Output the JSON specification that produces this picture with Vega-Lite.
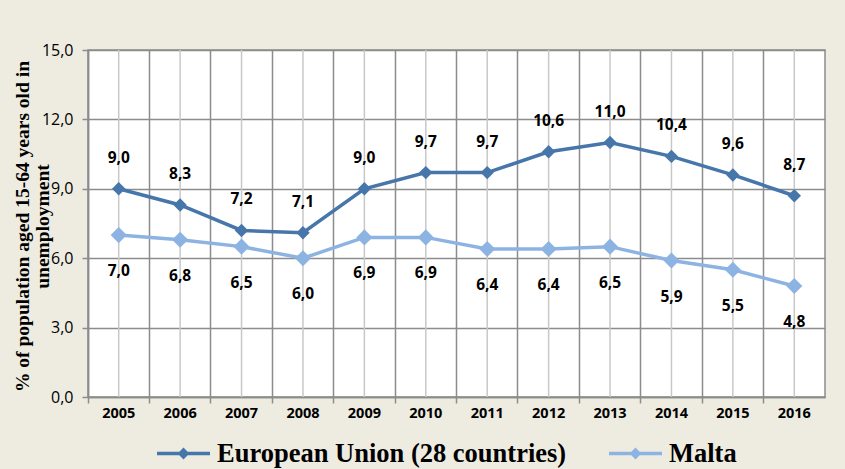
{
  "$schema": "https://vega.github.io/schema/vega-lite/v6.json",
  "width": 737,
  "height": 347,
  "autosize": {"type": "none"},
  "padding": {"left": 88, "top": 50, "right": 20, "bottom": 72},
  "background": "#EEECE1",
  "config": {
    "view": {"fill": "#FFFFFF", "stroke": "#8C8C8C", "strokeWidth": 1.5}
  },
  "data": {
    "values": [
      {"year": "2005", "series": "European Union (28 countries)", "value": 9.0},
      {"year": "2006", "series": "European Union (28 countries)", "value": 8.3},
      {"year": "2007", "series": "European Union (28 countries)", "value": 7.2},
      {"year": "2008", "series": "European Union (28 countries)", "value": 7.1},
      {"year": "2009", "series": "European Union (28 countries)", "value": 9.0},
      {"year": "2010", "series": "European Union (28 countries)", "value": 9.7},
      {"year": "2011", "series": "European Union (28 countries)", "value": 9.7},
      {"year": "2012", "series": "European Union (28 countries)", "value": 10.6},
      {"year": "2013", "series": "European Union (28 countries)", "value": 11.0},
      {"year": "2014", "series": "European Union (28 countries)", "value": 10.4},
      {"year": "2015", "series": "European Union (28 countries)", "value": 9.6},
      {"year": "2016", "series": "European Union (28 countries)", "value": 8.7},
      {"year": "2005", "series": "Malta", "value": 7.0},
      {"year": "2006", "series": "Malta", "value": 6.8},
      {"year": "2007", "series": "Malta", "value": 6.5},
      {"year": "2008", "series": "Malta", "value": 6.0},
      {"year": "2009", "series": "Malta", "value": 6.9},
      {"year": "2010", "series": "Malta", "value": 6.9},
      {"year": "2011", "series": "Malta", "value": 6.4},
      {"year": "2012", "series": "Malta", "value": 6.4},
      {"year": "2013", "series": "Malta", "value": 6.5},
      {"year": "2014", "series": "Malta", "value": 5.9},
      {"year": "2015", "series": "Malta", "value": 5.5},
      {"year": "2016", "series": "Malta", "value": 4.8}
    ]
  },
  "transform": [
    {"calculate": "replace(format(datum.value, '.1f'), '.', ',')", "as": "label"}
  ],
  "encoding": {
    "x": {
      "field": "year",
      "type": "ordinal",
      "scale": {"paddingInner": 0, "paddingOuter": 0},
      "axis": {
        "title": null,
        "labelAngle": 0,
        "bandPosition": 0,
        "grid": true,
        "gridColor": "#8C8C8C",
        "gridWidth": 1.5,
        "domainColor": "#8C8C8C",
        "domainWidth": 1.5,
        "tickColor": "#8C8C8C",
        "tickWidth": 1.5,
        "tickSize": 6,
        "labelFont": "Open Sans",
        "labelFontWeight": "bold",
        "labelFontSize": 14.5,
        "labelColor": "#000000",
        "labelPadding": 3
      }
    }
  },
  "layer": [
    {
      "transform": [{"filter": "datum.series === 'Malta'"}],
      "mark": {"type": "rule", "color": "#C8C8C8", "strokeWidth": 1.5},
      "encoding": {}
    },
    {
      "mark": {"type": "line", "strokeWidth": 3.5},
      "encoding": {
        "y": {
          "field": "value",
          "type": "quantitative",
          "scale": {"domain": [0, 15], "nice": false},
          "axis": {
            "values": [0, 3, 6, 9, 12, 15],
            "labelExpr": "replace(format(datum.value, '.1f'), '.', ',')",
            "grid": true,
            "gridColor": "#8C8C8C",
            "gridWidth": 1.5,
            "domainColor": "#8C8C8C",
            "domainWidth": 1.5,
            "tickColor": "#8C8C8C",
            "tickWidth": 1.5,
            "tickSize": 6,
            "labelFont": "Open Sans",
            "labelFontSize": 16,
            "labelColor": "#000000",
            "labelPadding": 9,
            "title": ["% of population aged 15-64 years old in", "unemployment"],
            "titleFont": "Liberation Serif",
            "titleFontWeight": "bold",
            "titleFontSize": 19.5,
            "titleColor": "#000000",
            "titleAngle": -90,
            "titleAlign": "center",
            "titleBaseline": "middle",
            "titleX": -66,
            "titleY": 176,
            "titleLineHeight": 20
          }
        },
        "color": {
          "field": "series",
          "type": "nominal",
          "scale": {
            "domain": ["European Union (28 countries)", "Malta"],
            "range": ["#4676AA", "#8DB3E2"]
          },
          "legend": {
            "title": null,
            "orient": "none",
            "direction": "horizontal",
            "legendX": 67,
            "legendY": 375,
            "labelFont": "Liberation Serif",
            "labelFontWeight": "bold",
            "labelFontSize": 26.5,
            "labelColor": "#000000",
            "labelLimit": 600,
            "symbolType": "M-1,0L1,0M0,-0.13L0.13,0L0,0.13L-0.13,0Z",
            "symbolSize": 2809,
            "symbolStrokeWidth": 3.5,
            "labelOffset": 5,
            "columnPadding": 35,
            "symbolOpacity": 1,
            "encode": {
              "symbols": {"update": {"fill": {"scale": "color", "field": "value"}}}
            }
          }
        }
      }
    },
    {
      "transform": [{"filter": "datum.series !== 'Malta'"}],
      "mark": {"type": "point", "shape": "diamond", "filled": true, "opacity": 1, "size": 180},
      "encoding": {
        "y": {"field": "value", "type": "quantitative"},
        "color": {"field": "series", "type": "nominal"}
      }
    },
    {
      "transform": [{"filter": "datum.series === 'Malta'"}],
      "mark": {"type": "point", "shape": "diamond", "filled": true, "opacity": 1, "size": 260},
      "encoding": {
        "y": {"field": "value", "type": "quantitative"},
        "color": {"field": "series", "type": "nominal"}
      }
    },
    {
      "transform": [{"filter": "datum.series !== 'Malta'"}],
      "mark": {"type": "text", "font": "Open Sans", "fontWeight": "bold", "fontSize": 15.5, "color": "#000000", "baseline": "middle", "dy": -31},
      "encoding": {
        "y": {"field": "value", "type": "quantitative"},
        "text": {"field": "label"}
      }
    },
    {
      "transform": [{"filter": "datum.series === 'Malta'"}],
      "mark": {"type": "text", "font": "Open Sans", "fontWeight": "bold", "fontSize": 15.5, "color": "#000000", "baseline": "middle", "dy": 36},
      "encoding": {
        "y": {"field": "value", "type": "quantitative"},
        "text": {"field": "label"}
      }
    }
  ]
}
